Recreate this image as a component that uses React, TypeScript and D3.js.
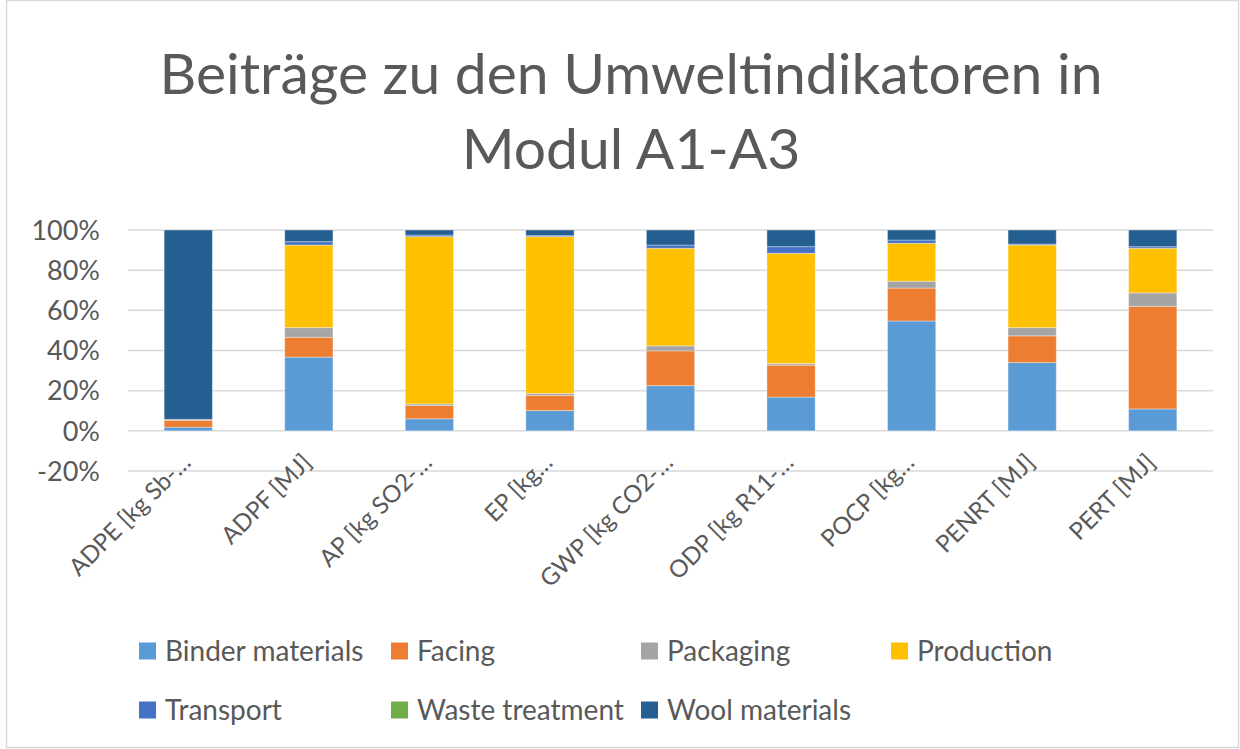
import * as d3 from "d3";

// indicator categories (truncated as in the original axis)
const categories = [
  "ADPE [kg Sb-…",
  "ADPF [MJ]",
  "AP [kg SO2-…",
  "EP [kg…",
  "GWP [kg CO2-…",
  "ODP [kg R11-…",
  "POCP [kg…",
  "PENRT [MJ]",
  "PERT [MJ]",
];

const seriesNames = [
  "Binder materials",
  "Facing",
  "Packaging",
  "Production",
  "Transport",
  "Waste treatment",
  "Wool materials",
];

// shares per category (in %)
const binder = [1.8, 36.7, 6.0, 10.1, 22.5, 16.8, 54.7, 34.0, 10.9];
const facing = [3.5, 9.9, 6.6, 7.5, 17.3, 15.9, 16.4, 13.3, 51.1];
const packaging = [0.2, 4.8, 0.8, 1.0, 2.5, 0.8, 3.4, 4.1, 6.7];
const production = [0.1, 41.1, 83.3, 78.1, 48.6, 54.9, 18.9, 41.1, 22.2];
const transport = [0.1, 1.7, 0.8, 0.5, 1.6, 3.3, 1.6, 0.5, 0.8];
const waste = [0, 0, 0, 0, 0, 0, 0, 0, 0];
const wool = [94.3, 5.8, 2.5, 2.8, 7.5, 8.3, 5.0, 7.0, 8.3];

const yTicks = [-0.2, 0, 0.2, 0.4, 0.6, 0.8, 1];

const colors = ["#5B9BD5", "#ED7D31", "#A5A5A5", "#FFC000", "#4472C4", "#70AD47", "#255E91"];

const W = 1240;
const H = 749;
const font = "Lato, 'Open Sans', sans-serif";
const textColor = "#595959";

export default function App() {
  const cols = [binder, facing, packaging, production, transport, waste, wool];
  const rows = categories.map((c, i) => {
    const r: any = { cat: c };
    seriesNames.forEach((s, j) => (r[s] = cols[j][i] / 100));
    return r;
  });
  const stacked = d3.stack().keys(seriesNames)(rows);

  const x = d3.scaleBand().domain(categories).range([128, 1213]).paddingInner(0.6).paddingOuter(0.3);
  const y = d3.scaleLinear().domain([-0.2, 1]).range([471, 230]);
  const fmt = (v: number) => d3.format(".0%")(v).replace("−", "-");

  // legend layout: 4 columns, 2 rows
  const legendX = [139, 391, 641, 891];
  const legendY = [651, 710];

  return (
    <svg width={W} height={H} style={{ position: "absolute", left: 0, top: 0 }} fontFamily={font}>
      <rect x={0} y={0} width={W} height={H} fill="white" />
      <rect x={6.5} y={0.5} width={1232} height={747} fill="none" stroke="#d9d9d9" strokeWidth={1.5} />

      <text x={631} y={94} textAnchor="middle" fontSize={57} fill={textColor}>
        Beiträge zu den Umweltindikatoren in
      </text>
      <text x={631} y={169} textAnchor="middle" fontSize={57} fill={textColor}>
        Modul A1-A3
      </text>

      {yTicks.map((t) => (
        <g key={t}>
          <line x1={128} x2={1213} y1={y(t)} y2={y(t)} stroke="#d9d9d9" strokeWidth={1.5} />
          <text x={100} y={y(t)} dy="0.36em" textAnchor="end" fontSize={27} fill={textColor}>
            {fmt(t)}
          </text>
        </g>
      ))}

      {stacked.map((s, j) => (
        <g key={s.key} fill={colors[j]}>
          {s.map((d, i) =>
            d[1] - d[0] > 0 ? (
              <rect
                key={i}
                x={x(categories[i])}
                y={y(d[1])}
                width={x.bandwidth()}
                height={y(d[0]) - y(d[1])}
                stroke="white"
                strokeOpacity={0.35}
                strokeWidth={1}
              />
            ) : null
          )}
        </g>
      ))}

      {categories.map((c) => {
        const cx = (x(c) as number) + x.bandwidth() / 2;
        return (
          <text
            key={c}
            transform={`translate(${cx + 4},${464}) rotate(-45)`}
            textAnchor="end"
            fontSize={24}
            fill={textColor}
          >
            {c}
          </text>
        );
      })}

      {seriesNames.map((s, j) => {
        const lx = legendX[j % 4];
        const ly = legendY[Math.floor(j / 4)];
        return (
          <g key={s} transform={`translate(${lx},${ly})`}>
            <rect x={0} y={-8.5} width={17} height={17} fill={colors[j]} />
            <text x={26} y={0} dy="0.36em" fontSize={28} fill={textColor}>
              {s}
            </text>
          </g>
        );
      })}
    </svg>
  );
}
